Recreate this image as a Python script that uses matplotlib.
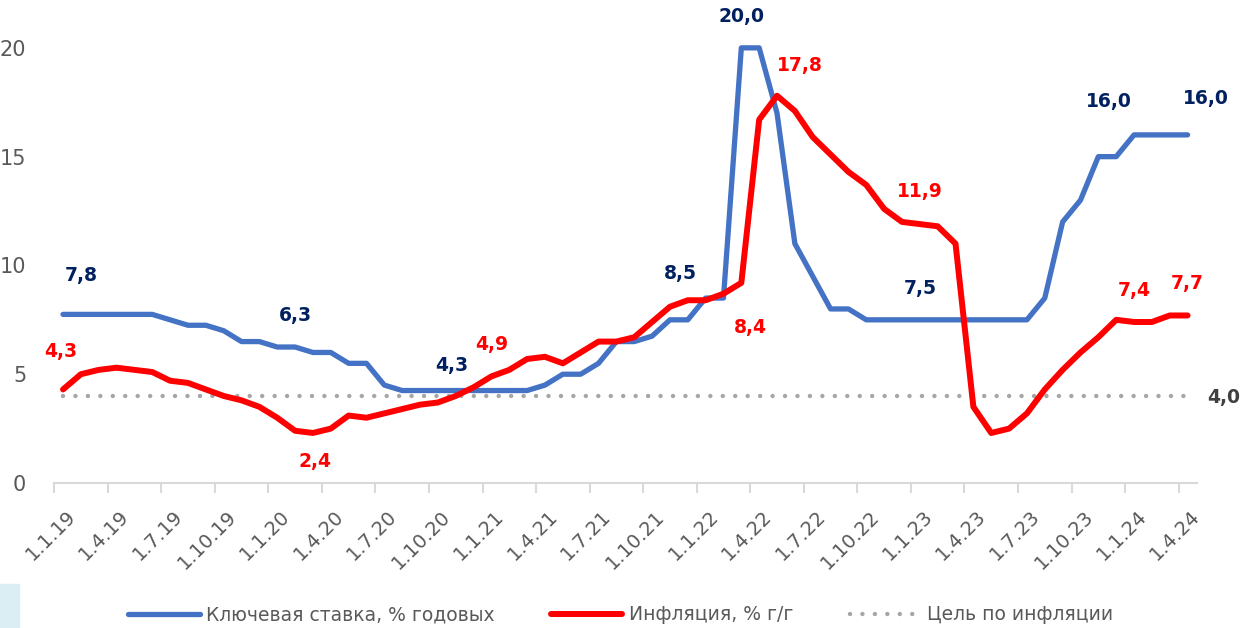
import numpy as np
import matplotlib
matplotlib.use('Agg')
import matplotlib.pyplot as plt
from matplotlib.patches import Rectangle
import matplotlib.transforms as mtransforms

# monthly points, Jan 2019 .. Apr 2024
tick_labels = ['1.1.19', '1.4.19', '1.7.19', '1.10.19', '1.1.20', '1.4.20', '1.7.20', '1.10.20',
               '1.1.21', '1.4.21', '1.7.21', '1.10.21', '1.1.22', '1.4.22', '1.7.22', '1.10.22',
               '1.1.23', '1.4.23', '1.7.23', '1.10.23', '1.1.24', '1.4.24']

key_rate = [7.75, 7.75, 7.75, 7.75, 7.75, 7.75, 7.5, 7.25, 7.25, 7.0, 6.5, 6.5,
            6.25, 6.25, 6.0, 6.0, 5.5, 5.5, 4.5, 4.25, 4.25, 4.25, 4.25, 4.25,
            4.25, 4.25, 4.25, 4.5, 5.0, 5.0, 5.5, 6.5, 6.5, 6.75, 7.5, 7.5,
            8.5, 8.5, 20.0, 20.0, 17.0, 11.0, 9.5, 8.0, 8.0, 7.5, 7.5, 7.5,
            7.5, 7.5, 7.5, 7.5, 7.5, 7.5, 7.5, 8.5, 12.0, 13.0, 15.0, 15.0,
            16.0, 16.0, 16.0, 16.0]

inflation = [4.3, 5.0, 5.2, 5.3, 5.2, 5.1, 4.7, 4.6, 4.3, 4.0, 3.8, 3.5,
             3.0, 2.4, 2.3, 2.5, 3.1, 3.0, 3.2, 3.4, 3.6, 3.7, 4.0, 4.4,
             4.9, 5.2, 5.7, 5.8, 5.5, 6.0, 6.5, 6.5, 6.7, 7.4, 8.1, 8.4,
             8.4, 8.7, 9.2, 16.7, 17.8, 17.1, 15.9, 15.1, 14.3, 13.7, 12.6, 12.0,
             11.9, 11.8, 11.0, 3.5, 2.3, 2.5, 3.2, 4.3, 5.2, 6.0, 6.7, 7.5,
             7.4, 7.4, 7.7, 7.7]

target = [4.0] * 64

# data labels: (index, y position, text)
rate_labels = [(1, 9.56, '7,8'), (13, 7.68, '6,3'), (21.8, 5.38, '4,3'), (34.6, 9.61, '8,5'),
               (38, 21.44, '20,0'), (48, 8.95, '7,5'), (58.6, 17.53, '16,0'), (64, 17.66, '16,0')]
infl_labels = [(-0.1, 6.04, '4,3'), (14.1, 0.98, '2,4'), (24, 6.38, '4,9'), (41.3, 19.2, '17,8'),
               (38.5, 7.16, '8,4'), (48, 13.4, '11,9'), (60, 8.84, '7,4'), (63, 9.15, '7,7')]

x = np.arange(len(key_rate))

fig = plt.figure(figsize=(12.56, 6.28), dpi=100)
ax = fig.add_axes([54.1 / 1256, 1 - 483 / 628, (1196.5 - 54.1) / 1256, 483 / 628])

ax.plot(x, target, color='#A6A6A6', lw=3.2, linestyle=(0, (0.001, 2.8)),
        dash_capstyle='round', label='Цель по инфляции', zorder=2)
ax.plot(x, key_rate, color='#4472C4', lw=3.8, solid_joinstyle='round',
        solid_capstyle='round', label='Ключевая ставка, % годовых', zorder=3)
ax.plot(x, inflation, color='#FF0000', lw=4.3, solid_joinstyle='round',
        solid_capstyle='round', label='Инфляция, % г/г', zorder=4)

for xi, yi, t in rate_labels:
    ax.text(xi, yi, t, color='#002060', fontsize=13.5, fontweight='bold',
            ha='center', va='center', clip_on=False)
for xi, yi, t in infl_labels:
    ax.text(xi, yi, t, color='#FF0000', fontsize=13.5, fontweight='bold',
            ha='center', va='center', clip_on=False)
ax.text(65.0, 3.92, '4,0', color='#404040', fontsize=13.5, fontweight='bold',
        ha='center', va='center', clip_on=False)

ax.set_xlim(-0.5, 63.5)
ax.set_ylim(0, 22.2)

for s in ['top', 'right', 'left']:
    ax.spines[s].set_visible(False)
ax.spines['bottom'].set_color('#D9D9D9')
ax.spines['bottom'].set_linewidth(1.5)

ax.set_yticks([0, 5, 10, 15, 20])
ax.tick_params(axis='y', length=0, labelsize=15, labelcolor='#595959', pad=20)

ax.set_xticks(np.arange(-0.5, 63, 3), minor=False)
ax.set_xticklabels([])
ax.tick_params(axis='x', which='major', length=7, width=1.5, color='#D9D9D9')
ax.set_xticks(np.arange(0, 64, 3), minor=True)
ax.set_xticklabels(tick_labels, minor=True, rotation=45, ha='right',
                   rotation_mode='anchor', fontsize=14, color='#595959')
ax.tick_params(axis='x', which='minor', length=0, pad=17)
offset = mtransforms.ScaledTranslation(3 / 100, 0, fig.dpi_scale_trans)
for lbl in ax.get_xticklabels(minor=True):
    lbl.set_transform(lbl.get_transform() + offset)

handles, labels = ax.get_legend_handles_labels()
order = [1, 2, 0]
leg = fig.legend([handles[i] for i in order], [labels[i] for i in order],
                 loc='center', bbox_to_anchor=(621 / 1256, 1 - 615 / 628), ncol=3,
                 frameon=False, fontsize=13.5, handlelength=3.8, handletextpad=0.35,
                 columnspacing=3.0)
for t in leg.get_texts():
    t.set_color('#595959')

fig.patches.append(Rectangle((0, 0), 19 / 1256, 44 / 628, transform=fig.transFigure,
                             color='#DAEEF3', zorder=0))

fig.savefig('out.png', dpi=100)
